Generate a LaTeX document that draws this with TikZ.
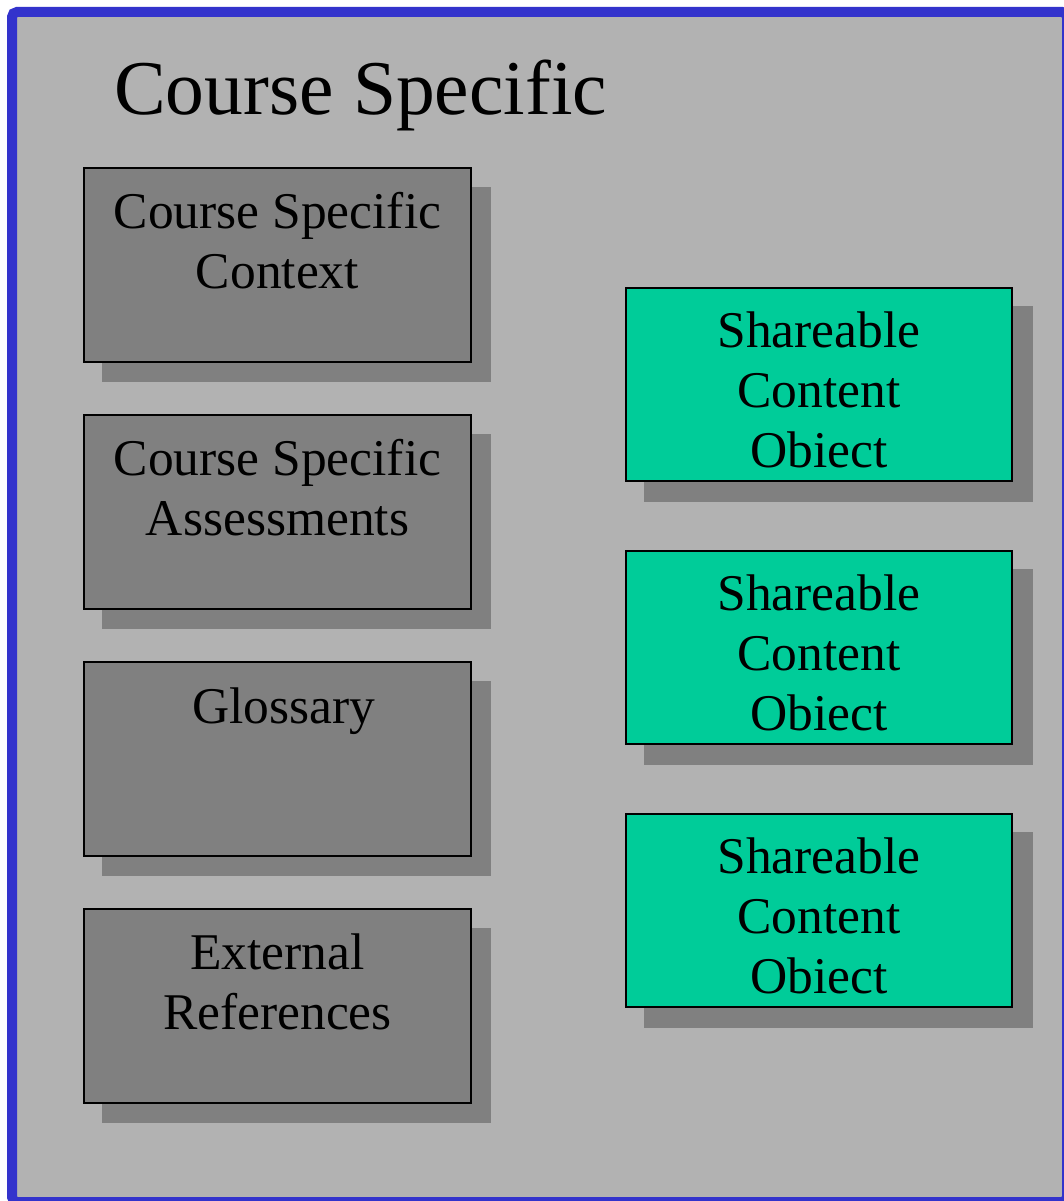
\documentclass[tikz,border=0pt]{standalone}
\usepackage{fontspec}
\setmainfont{Liberation Serif}
\definecolor{framebg}{HTML}{B2B2B2}
\definecolor{frameblue}{HTML}{3333CC}
\definecolor{boxgray}{HTML}{808080}
\definecolor{scoteal}{HTML}{00CC99}
\begin{document}
\begin{tikzpicture}[x=1pt,y=-1pt,
  graybox/.style={fill=boxgray,draw=black,line width=2pt},
  tealbox/.style={fill=scoteal,draw=black,line width=2pt},
  boxtext/.style={font=\fontsize{51.5}{60}\selectfont,align=center,anchor=base,inner sep=0pt}]
\useasboundingbox (0,0) rectangle (1063,1201);
\fill[white] (0,0) rectangle (1063,1201);
\draw[frameblue,fill=framebg,line width=10pt,rounded corners=5pt] (12,12) rectangle (1067,1202);
\node[font=\fontsize{77.5}{90}\selectfont,anchor=base west,inner sep=0pt] (title) at (114,115) {Course Specific};
% left column
\foreach \t in {168,415,662,909}{
  \fill[boxgray] (102,\t+19) rectangle (491,\t+214);
  \draw[graybox] (84,\t) rectangle (471,\t+194);
}
\node[boxtext] (t1) at (277.5,288) {Course Specific\\Context};
\node[boxtext] (t2) at (277.5,535) {Course Specific\\Assessments};
\node[boxtext] (t3) at (284,723) {Glossary};
\node[boxtext] (t4) at (277.5,1029) {External\\References};
% right column
\foreach \t/\n in {288/e,551/f,814/g}{
  \fill[boxgray] (644,\t+18) rectangle (1033,\t+214);
  \draw[tealbox] (626,\t) rectangle (1012,\t+193);
  \node[boxtext] (s\n) at (819,\t+179) {Shareable\\Content\\Obiect};
}
\end{tikzpicture}
\end{document}
